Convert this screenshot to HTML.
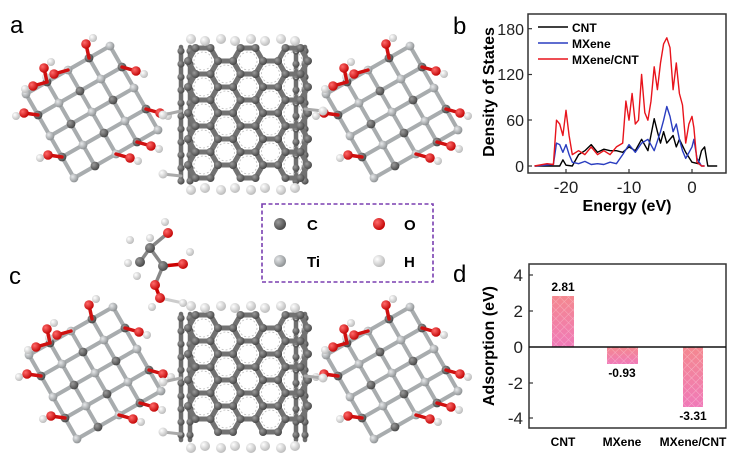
<!DOCTYPE html>
<html><head><meta charset="utf-8"><style>
html,body{margin:0;padding:0;background:#fff}
svg{display:block}
text{font-family:"Liberation Sans",Arial,sans-serif}
</style></head><body>
<svg id="s" width="752" height="462" viewBox="0 0 752 462" xmlns="http://www.w3.org/2000/svg">
<defs>
<linearGradient id="bar" x1="0" y1="0" x2="0" y2="1"><stop offset="0" stop-color="#f4888f"/><stop offset="1" stop-color="#f07ab8"/></linearGradient>
<pattern id="hatch" width="6" height="6" patternUnits="userSpaceOnUse" patternTransform="rotate(45)"><path d="M0 0H6M0 0V6" stroke="#ffffff" stroke-opacity="0.35" stroke-width="1"/></pattern>
<radialGradient id="gC" cx="0.35" cy="0.35" r="0.7"><stop offset="0" stop-color="#9a9a9a"/><stop offset="1" stop-color="#444"/></radialGradient>
<radialGradient id="gTi" cx="0.35" cy="0.35" r="0.7"><stop offset="0" stop-color="#e6e8ea"/><stop offset="1" stop-color="#8a8e90"/></radialGradient>
<radialGradient id="gO" cx="0.35" cy="0.35" r="0.7"><stop offset="0" stop-color="#ff6a6a"/><stop offset="1" stop-color="#c00000"/></radialGradient>
<radialGradient id="gH" cx="0.35" cy="0.35" r="0.7"><stop offset="0" stop-color="#ffffff"/><stop offset="1" stop-color="#b8b8b8"/></radialGradient>
</defs>
<g id="mol"></g>

<text x="10" y="33" font-size="24">a</text>
<text x="9" y="284" font-size="24">c</text>
<text x="453" y="34" font-size="24">b</text>
<text x="453" y="282" font-size="24">d</text>

<rect x="262" y="204" width="171" height="78" fill="none" stroke="#7a3fb0" stroke-width="1.6" stroke-dasharray="4,2.5"/>
<circle cx="280" cy="224" r="6" fill="url(#gC)"/><text x="307" y="230" font-size="15" font-weight="bold">C</text>
<circle cx="379" cy="224" r="6" fill="url(#gO)"/><text x="404" y="230" font-size="15" font-weight="bold">O</text>
<circle cx="280" cy="261" r="6" fill="url(#gTi)"/><text x="307" y="267" font-size="15" font-weight="bold">Ti</text>
<circle cx="379" cy="261" r="6" fill="url(#gH)"/><text x="404" y="267" font-size="15" font-weight="bold">H</text>

<g id="pb">
<rect x="528" y="14" width="198" height="159" fill="none" stroke="#333" stroke-width="1.5"/>
<g font-size="16" text-anchor="end" fill="#222">
<text x="524" y="172">0</text><text x="524" y="126">60</text><text x="524" y="80">120</text><text x="524" y="35">180</text>
</g>
<g stroke="#333" stroke-width="1.2"><line x1="528" y1="166" x2="532" y2="166"/><line x1="528" y1="120" x2="532" y2="120"/><line x1="528" y1="74.5" x2="532" y2="74.5"/><line x1="528" y1="28.7" x2="532" y2="28.7"/>
<line x1="566" y1="173" x2="566" y2="169"/><line x1="629" y1="173" x2="629" y2="169"/><line x1="692" y1="173" x2="692" y2="169"/></g>
<g font-size="17" text-anchor="middle" fill="#222"><text x="566" y="193">-20</text><text x="629" y="193">-10</text><text x="692" y="193">0</text></g>
<text x="627" y="211" font-size="16" font-weight="bold" text-anchor="middle">Energy (eV)</text>
<text transform="translate(494,92) rotate(-90)" font-size="16" font-weight="bold" text-anchor="middle">Density of States</text>
<line x1="538" y1="27" x2="568" y2="27" stroke="#000" stroke-width="1.5"/><text x="572" y="32" font-size="12" font-weight="bold">CNT</text>
<line x1="538" y1="43" x2="568" y2="43" stroke="#2a3dc0" stroke-width="1.5"/><text x="572" y="48" font-size="12" font-weight="bold">MXene</text>
<line x1="538" y1="59" x2="568" y2="59" stroke="#e8141c" stroke-width="1.5"/><text x="572" y="64" font-size="12" font-weight="bold">MXene/CNT</text>
</g>

<rect x="552" y="296" width="22" height="51" fill="url(#bar)"/><rect x="552" y="296" width="22" height="51" fill="url(#hatch)"/>
<rect x="607" y="347" width="31" height="17" fill="url(#bar)"/><rect x="607" y="347" width="31" height="17" fill="url(#hatch)"/>
<rect x="683" y="347" width="20" height="60" fill="url(#bar)"/><rect x="683" y="347" width="20" height="60" fill="url(#hatch)"/>
<rect x="529" y="264" width="197" height="164" fill="none" stroke="#333" stroke-width="1.5"/>
<line x1="529" y1="347" x2="726" y2="347" stroke="#111" stroke-width="1.5"/>
<g stroke="#333" stroke-width="1.2"><line x1="529" y1="275" x2="533" y2="275"/><line x1="529" y1="311" x2="533" y2="311"/><line x1="529" y1="383" x2="533" y2="383"/><line x1="529" y1="418" x2="533" y2="418"/></g>
<g font-size="17" text-anchor="end" fill="#222">
<text x="523" y="281">4</text><text x="523" y="317">2</text><text x="523" y="353">0</text><text x="523" y="389">-2</text><text x="523" y="424">-4</text>
</g>
<text transform="translate(494,346) rotate(-90)" font-size="16" font-weight="bold" text-anchor="middle">Adsorption (eV)</text>
<g font-size="12" font-weight="bold" text-anchor="middle">
<text x="563" y="291">2.81</text><text x="622" y="377">-0.93</text><text x="693" y="420">-3.31</text>
<text x="563" y="446">CNT</text><text x="622" y="446">MXene</text><text x="693" y="446">MXene/CNT</text>
</g>
</svg>
<script>
(function(){
var NS="http://www.w3.org/2000/svg",mol=document.getElementById('mol'),pb=document.getElementById('pb');
function el(t,a,p){var e=document.createElementNS(NS,t);for(var k in a)e.setAttribute(k,a[k]);(p||mol).appendChild(e);return e;}
function line(x1,y1,x2,y2,c,w){el('line',{x1:x1,y1:y1,x2:x2,y2:y2,stroke:c,'stroke-width':w,'stroke-linecap':'round'});}
function ball(x,y,r,g){el('circle',{cx:x,cy:y,r:r,fill:'url(#'+g+')'});}
function poly(pts,c){var s=pts.map(function(p){return (692+p[0]*6.3).toFixed(1)+','+(166-p[1]*0.763).toFixed(1)}).join(' ');el('polyline',{points:s,fill:'none',stroke:c,'stroke-width':1.4,'stroke-linejoin':'round'},pb);}
poly([[-25,0],[-21,0],[-20.5,8],[-20,1],[-19,0],[-18,15],[-17,20],[-16,28],[-15,18],[-14,22],[-13,20],[-12,20],[-11,18],[-10,25],[-9,20],[-8,35],[-7,20],[-6,62],[-5.5,45],[-5,30],[-4.5,45],[-4,30],[-3,40],[-2.5,25],[-2,35],[-1,18],[0,5],[1,3],[1.5,20],[2,25],[2.5,0],[4,0]],'#000');
poly([[-25,0],[-22,2],[-21.5,30],[-21,28],[-20.5,18],[-20,28],[-19.5,15],[-19,5],[-18,3],[-17,6],[-16,2],[-15,3],[-14,2],[-13,5],[-12,3],[-11,15],[-10,28],[-9,18],[-8,30],[-7,35],[-6,20],[-5,45],[-4.5,60],[-4,78],[-3.5,65],[-3,45],[-2.5,55],[-2,35],[-1.5,20],[-1,10],[0,25],[0.3,35],[0.8,10],[1.5,0],[2,0]],'#2a3dc0');
poly([[-25,0],[-23,3],[-22,2],[-21.5,60],[-21,55],[-20.5,40],[-20,73],[-19.5,40],[-19,15],[-18,20],[-17,15],[-16,25],[-15,15],[-14,20],[-13,15],[-12,25],[-11,30],[-10.5,85],[-10,60],[-9.5,95],[-9,55],[-8.5,60],[-8,120],[-7.5,70],[-7,60],[-6.5,85],[-6,130],[-5.5,100],[-5,135],[-4.5,160],[-4,168],[-3.5,155],[-3,100],[-2.5,135],[-2,95],[-1.5,80],[-1,30],[-0.5,55],[0,65],[0.3,50],[0.8,5],[1.5,0],[2,0]],'#e8141c');
function mx(cx,cy){
 var a1=[21,-12],a2=[12,21],n=5,pts=[];
 for(var i=0;i<n;i++){pts[i]=[];for(var j=0;j<n;j++){pts[i][j]=[cx+(i-2)*a1[0]+(j-2)*a2[0],cy+(i-2)*a1[1]+(j-2)*a2[1]];}}
 for(var i=0;i<n;i++)for(var j=0;j<n;j++){var p=pts[i][j];
  if(i<n-1){var q=pts[i+1][j];line(p[0],p[1],q[0],q[1],'#a8acae',4);}
  if(j<n-1){var q=pts[i][j+1];line(p[0],p[1],q[0],q[1],'#a8acae',4);}}
 for(var i=0;i<n;i++)for(var j=0;j<n;j++){var p=pts[i][j];ball(p[0],p[1],4.4,((i+j)%2)?'gC':'gTi');}
 var sides=[[0,1,-1],[0,3,-1],[4,1,1],[4,3,1],[1,0,-1],[3,4,1],[2,0,-1],[2,4,1]];
 sides.forEach(function(s){var p=pts[s[0]][s[1]],dx=s[2]*14,dy=(s[0]==0?-2:4);
  line(p[0],p[1],p[0]+dx,p[1]+dy,'#d01010',3.5);ball(p[0]+dx,p[1]+dy,4.8,'gO');ball(p[0]+dx+s[2]*8,p[1]+dy+3,4,'gH');});
 [[1,0],[3,0]].forEach(function(s){var p=pts[s[0]][s[1]];line(p[0],p[1],p[0]-3,p[1]-14,'#d01010',3.5);ball(p[0]-3,p[1]-14,4.8,'gO');ball(p[0]+4,p[1]-20,4,'gH');});
}
function cnt(cx,top,bot){
 var L=cx-62,R=cx+62;
 [L,L+9,R-9,R].forEach(function(x){line(x,top+14,x,bot-14,'#6e6e6e',4.5);for(var y=top+18;y<bot-12;y+=13)ball(x,y,3.6,'gC');});
 var s=15,hx=22.5,vy=26;
 for(var c=0;c<5;c++){for(var r=0;r<6;r++){
  var x=L+18+c*hx+4,y=top+28+r*vy+(c%2?vy/2:0);if(y>bot-26)continue;
  var vs=[];for(var k=0;k<6;k++){var a=Math.PI/3*k;vs.push([x+s*Math.cos(a),y+s*Math.sin(a)]);}
  for(var k=0;k<6;k++){var p=vs[k],q=vs[(k+1)%6];line(p[0],p[1],q[0],q[1],'#727272',5);}
  el('circle',{cx:x,cy:y,r:9,fill:'none',stroke:'#bbb','stroke-width':0.8,'stroke-dasharray':'2,2'});
  vs.forEach(function(p){ball(p[0],p[1],4,'gC');});
 }}
 [L+10,L+24,cx-22,cx-8,cx+8,cx+22,R-24,R-10].forEach(function(x,i){ball(x,top+6+(i%2)*2,5,'gH');ball(x,bot-6-(i%2)*2,5,'gH');});
 line(L-18,top+82,L,top+78,'#aaa',3);ball(L-18,top+82,4.5,'gH');
 line(R+18,top+78,R,top+76,'#aaa',3);ball(R+18,top+78,4.5,'gH');
 line(L-18,bot-22,L,bot-20,'#aaa',3);ball(L-18,bot-22,4.5,'gH');
}
mx(92,112);mx(392,112);cnt(243,33,196);
mx(95,373);mx(392,373);cnt(243,300,454);
var m=[[160,298,'gO'],[155,285,'gO'],[163,266,'gC'],[150,248,'gC'],[168,233,'gO'],[140,262,'gC'],[183,264,'gO']];
line(160,298,183,303,'#ccc',3);line(160,298,155,285,'#c00',3.5);line(155,285,163,266,'#888',3.5);line(163,266,150,248,'#888',3.5);line(150,248,168,233,'#888',3.5);line(150,248,140,262,'#888',3.5);line(163,266,183,264,'#c00',3.5);
m.forEach(function(p){ball(p[0],p[1],5,p[2]);});
[[183,303],[152,307],[165,222],[190,252],[130,240],[128,263],[137,276],[150,238]].forEach(function(p){ball(p[0],p[1],4,'gH');});
})();
</script>
</body></html>
